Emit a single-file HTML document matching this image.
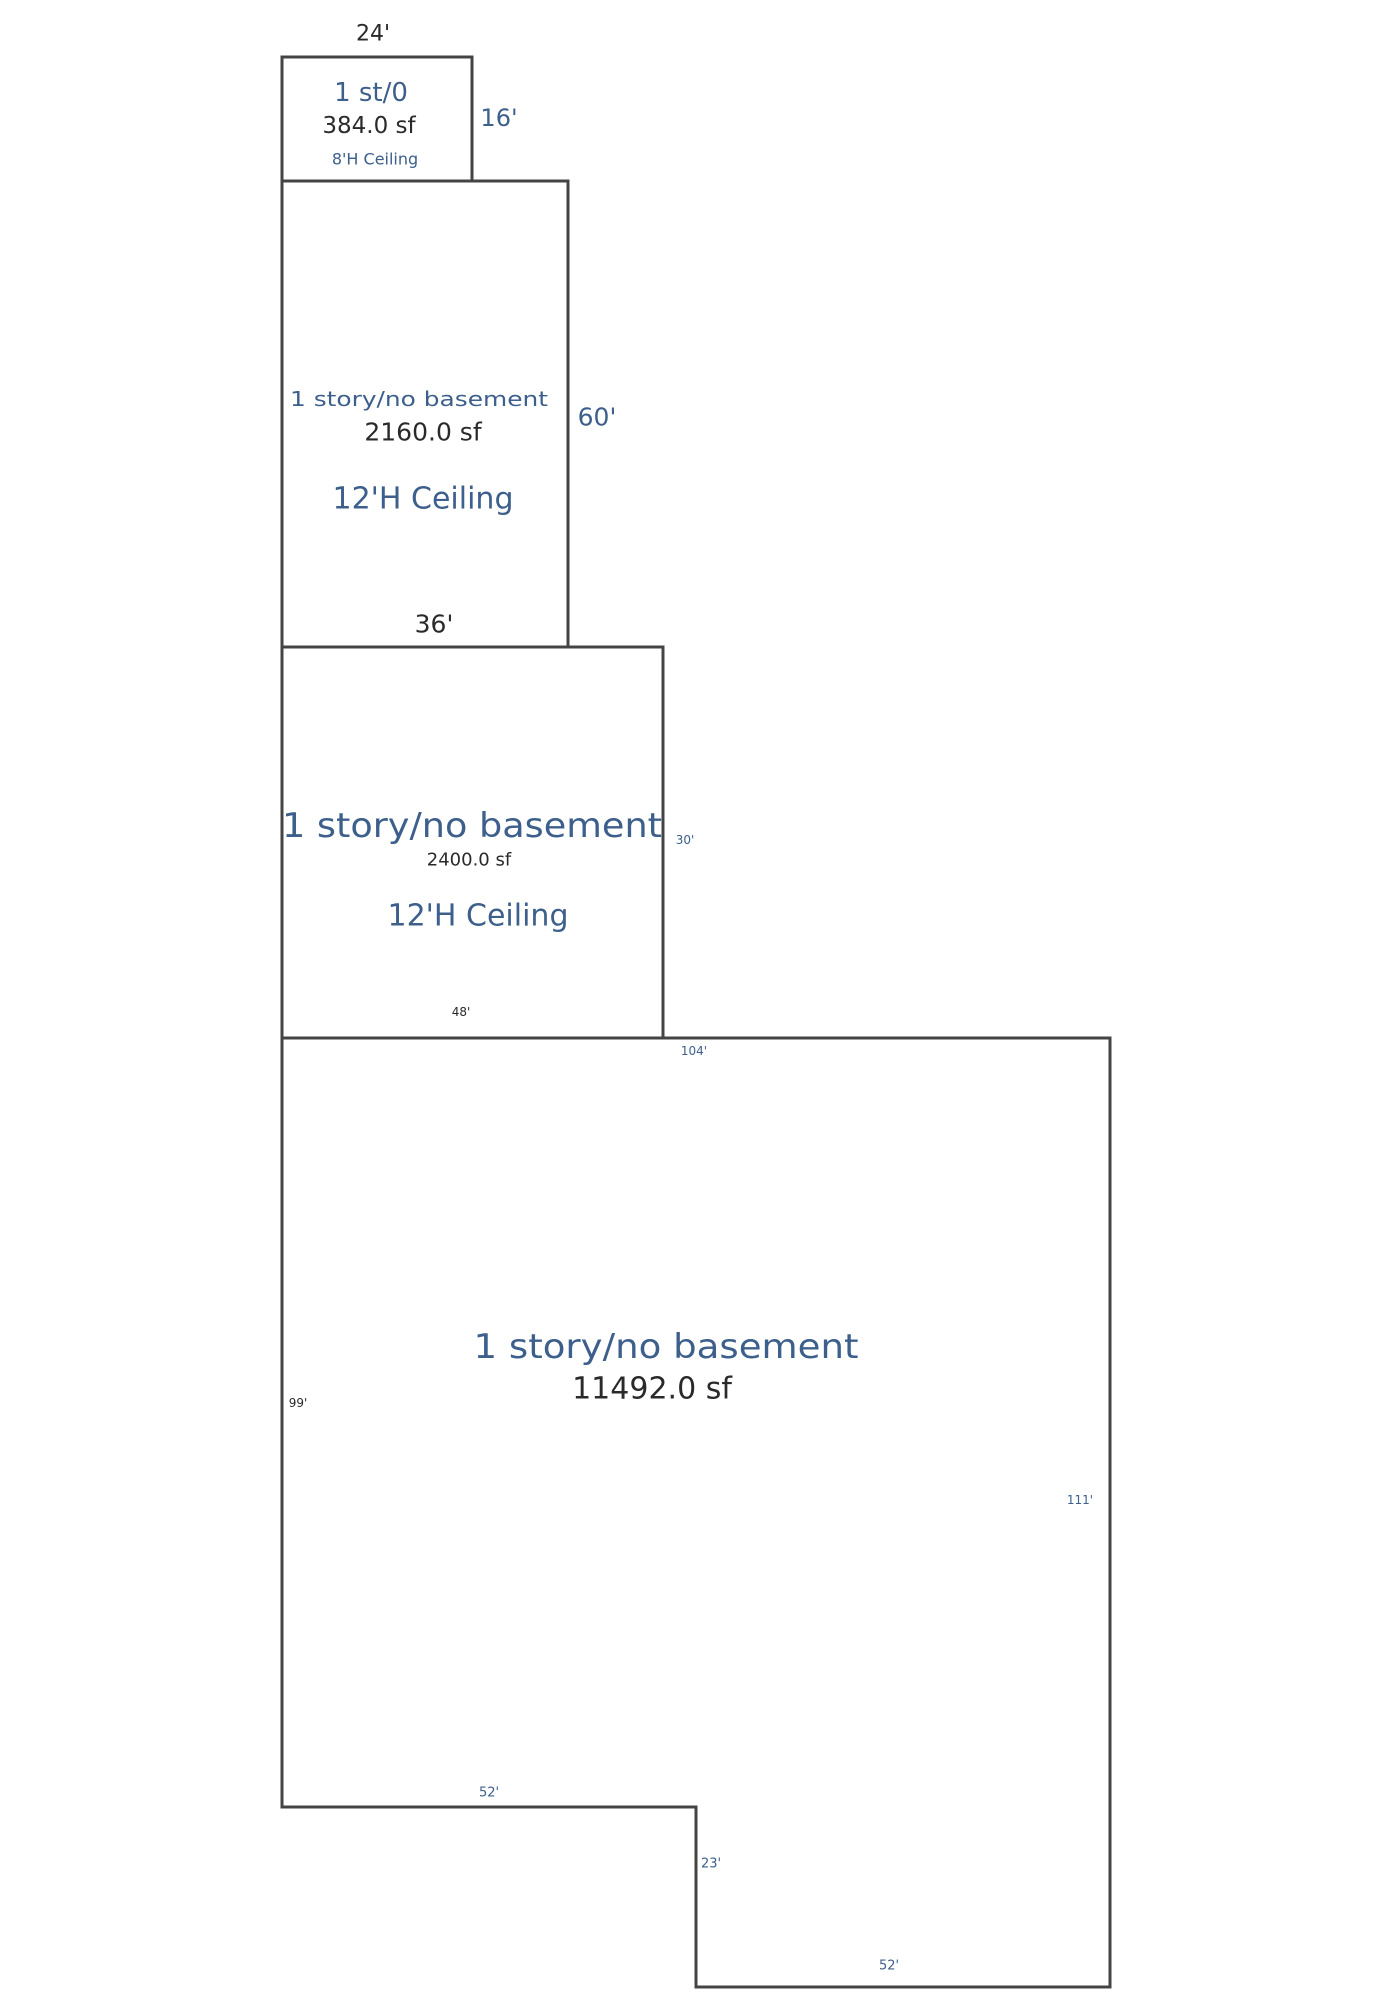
<!DOCTYPE html>
<html><head><meta charset="utf-8"><style>
html,body{margin:0;padding:0;background:#fff;}
svg{display:block;}
text{font-family:"DejaVu Sans","Liberation Sans",sans-serif;dominant-baseline:central;text-anchor:middle;}
.b{fill:#3d5f8c;}
.d{fill:#2a2a2a;}
</style></head><body>
<svg width="1381" height="2000" viewBox="0 0 1381 2000" xmlns="http://www.w3.org/2000/svg">
<g fill="none" stroke="#444" stroke-width="3">
<rect x="282" y="57" width="190" height="124"/>
<rect x="282" y="181" width="286" height="466"/>
<rect x="282" y="647" width="381" height="391"/>
<path d="M282 1038 L1110 1038 L1110 1987 L696 1987 L696 1807 L282 1807 Z"/>
</g>
<text class="d" x="373" y="34" font-size="22">24'</text>
<text class="b" x="371" y="93" font-size="26">1 st/0</text>
<text class="d" x="369" y="126" font-size="23">384.0 sf</text>
<text class="b" x="375" y="159" font-size="16">8'H Ceiling</text>
<text class="b" x="499" y="118" font-size="24">16'</text>
<text class="b" x="419" y="399" font-size="20" textLength="258" lengthAdjust="spacingAndGlyphs">1 story/no basement</text>
<text class="d" x="423" y="432" font-size="25">2160.0 sf</text>
<text class="b" x="423" y="499" font-size="30">12'H Ceiling</text>
<text class="b" x="597" y="417" font-size="25">60'</text>
<text class="d" x="434" y="624" font-size="25">36'</text>
<text class="b" x="472" y="826" font-size="34" textLength="380" lengthAdjust="spacingAndGlyphs">1 story/no basement</text>
<text class="d" x="469" y="860" font-size="18">2400.0 sf</text>
<text class="b" x="478" y="916" font-size="30">12'H Ceiling</text>
<text class="b" x="685" y="840" font-size="12">30'</text>
<text class="d" x="461" y="1012" font-size="12">48'</text>
<text class="b" x="694" y="1051" font-size="12">104'</text>
<text class="b" x="666" y="1347" font-size="34" textLength="385" lengthAdjust="spacingAndGlyphs">1 story/no basement</text>
<text class="d" x="652" y="1389" font-size="30">11492.0 sf</text>
<text class="d" x="298" y="1403" font-size="12">99'</text>
<text class="b" x="1080" y="1500" font-size="12">111'</text>
<text class="b" x="489" y="1793" font-size="13">52'</text>
<text class="b" x="711" y="1864" font-size="13">23'</text>
<text class="b" x="889" y="1966" font-size="13">52'</text>
</svg>
</body></html>
